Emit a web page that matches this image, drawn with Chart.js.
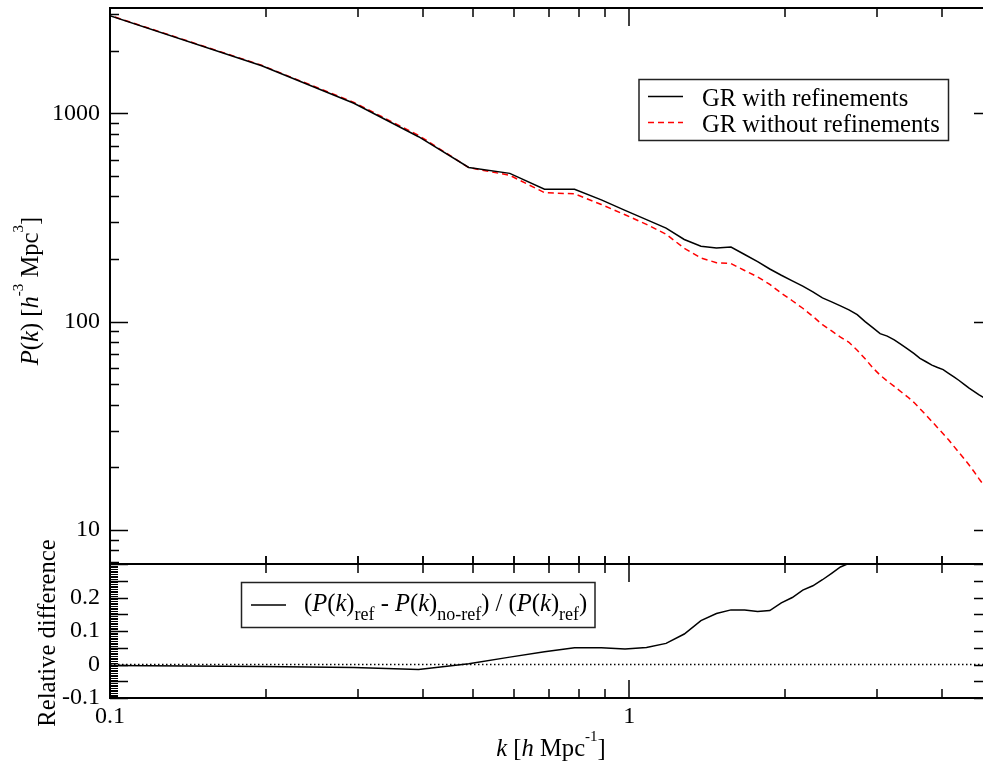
<!DOCTYPE html>
<html><head><meta charset="utf-8">
<script src="https://cdn.jsdelivr.net/npm/chart.js@4.4.1/dist/chart.umd.min.js"></script>
<style>
html,body{margin:0;padding:0;background:#fff;overflow:hidden;width:983px;height:765px;}
#wrap{position:relative;width:1000px;height:765px;}
canvas{position:absolute;left:0;top:0;}
</style></head><body>
<div id="wrap"><canvas id="cTop" width="1000" height="765"></canvas><canvas id="cBot" width="1000" height="765"></canvas></div>
<script>
// ---- data ----
const kValues = [0.098,0.196,0.295,0.393,0.491,0.589,0.687,0.785,0.884,0.982,1.080,1.178,1.277,1.375,1.473,1.571,1.669,1.768,1.866,1.964,2.062,2.160,2.259,2.357,2.455,2.553,2.651,2.750,2.848,2.946,3.044,3.142,3.241,3.339,3.437,3.535,3.633,3.732,3.830,3.928,4.026,4.124,4.223,4.321,4.419,4.517,4.615,4.714,4.812];
const pWithRef = [2990,1690,1117,772,550,515,432,432,384,342,309,281,248,230,226,228,210,194,179,167,157,148,139,130,124.5,119,114,108,100,93.6,87.6,85.2,81.8,77.8,74.1,70.4,66.7,64.2,61.9,60.3,58.9,56.5,54.3,52.2,50.0,48.0,46.3,44.7,43.3];
const pWithoutRef = [2999,1700,1127,784,549,504,416,411,365,326,293,263,225,202,192,190,176,164,151,137,126,116,106,96.7,90.3,84.4,79.6,72.9,66.4,60.1,55.4,51.9,48.9,46.1,43.6,41.0,38.2,35.6,33.2,31.0,29.0,27.1,25.2,23.5,22.0,20.5,19.1,17.7,16.5];
const relDiff = [-0.003,-0.006,-0.009,-0.015,0.002,0.022,0.038,0.050,0.050,0.046,0.051,0.063,0.091,0.131,0.152,0.163,0.163,0.158,0.161,0.184,0.200,0.222,0.235,0.253,0.272,0.291,0.302,0.325,0.336,0.358,0.368,0.391,0.402,0.407,0.412,0.418,0.427,0.445,0.464,0.486,0.508,0.520,0.536,0.550,0.560,0.573,0.587,0.604,0.619];
const zeroLineK = [0.1, 5];
const zeroLineY = [0, 0];
const seriesLabels = ['GR with refinements', 'GR without refinements'];
const ratioLabel = '(P(k)ref - P(k)no-ref) / (P(k)ref)';
const topYTickLabels = [10, 100, 1000];
const topYMinorTicks = [7,8,9,20,30,40,50,60,70,80,90,200,300,400,500,600,700,800,900,2000,3000];
const botYTickLabels = [-0.1, 0, 0.1, 0.2];
const botYMajorTicks = [-0.1,-0.05,0,0.05,0.1,0.15,0.2,0.25,0.3];
const xTickLabels = [0.1, 1];
const xMinorTicks = [0.2,0.3,0.4,0.5,0.6,0.7,0.8,0.9,2,3,4];

const FONT = '"Liberation Serif", "Times New Roman", serif';
const TXT = 24.6;

// rich text segments
const yTitleTop = [{t:'P',it:1},{t:'('},{t:'k',it:1},{t:') ['},{t:'h',it:1},{t:'-3',sup:1},{t:' Mpc'},{t:'3',sup:1},{t:']'}];
const yTitleBot = [{t:'Relative difference'}];
const xTitle = [{t:'k',it:1},{t:' ['},{t:'h',it:1},{t:' Mpc'},{t:'-1',sup:1},{t:']'}];
const ratioRich = [{t:'('},{t:'P',it:1},{t:'('},{t:'k',it:1},{t:')'},{t:'ref',sub:1},{t:' - '},{t:'P',it:1},{t:'('},{t:'k',it:1},{t:')'},{t:'no-ref',sub:1},{t:') / ('},{t:'P',it:1},{t:'('},{t:'k',it:1},{t:')'},{t:'ref',sub:1},{t:')'}];

function segFont(s, size){
  const sz = s.sup ? Math.round(size*0.62) : s.sub ? Math.round(size*0.72) : size;
  return (s.it ? 'italic ' : '') + sz + 'px ' + FONT;
}
function richWidth(ctx, segs, size){
  let w = 0;
  for (const s of segs){ ctx.font = segFont(s,size); w += ctx.measureText(s.t).width; }
  return w;
}
function drawRich(ctx, segs, x, y, size, align){
  const w = richWidth(ctx, segs, size);
  let cx = align === 'center' ? x - w/2 : x;
  ctx.textAlign = 'left'; ctx.textBaseline = 'alphabetic'; ctx.fillStyle = '#000';
  for (const s of segs){
    ctx.font = segFont(s,size);
    const dy = s.sup ? -size*0.62 : s.sub ? size*0.37 : 0;
    ctx.fillText(s.t, cx, y + dy);
    cx += ctx.measureText(s.t).width;
  }
}

function pts(xs, ys){ return xs.map((k,i)=>({x:k, y:ys[i]})); }
function noPad(s){ s.paddingTop = 0; s.paddingBottom = 0; s.paddingLeft = 0; s.paddingRight = 0; }

// ticks, frame, legends and titles drawn through the chart's scales
const decor = {
  id: 'decor',
  afterDraw(chart, args, o){
    const ctx = chart.ctx, a = chart.chartArea, xs = chart.scales.x, ys = chart.scales.y;
    ctx.save();
    ctx.strokeStyle = '#000'; ctx.lineWidth = 1.5; ctx.lineCap = 'butt';
    const seg = (x1,y1,x2,y2)=>{ ctx.beginPath(); ctx.moveTo(x1,y1); ctx.lineTo(x2,y2); ctx.stroke(); };
    const xt = (vals, len, edge, dir)=>{ for (const v of vals){ const p = Math.round(xs.getPixelForValue(v)); seg(p, edge, p, edge+dir*len); } };
    xt(o.xMajor, o.top.major, a.top, 1); xt(o.xMinor, o.top.minor, a.top, 1);
    if (o.topOut){ xt(o.xMajor, o.topOut, a.top, -1); xt(o.xMinor, o.topOut, a.top, -1); }
    xt(o.xMajor, o.bottom.major, a.bottom, -1); xt(o.xMinor, o.bottom.minor, a.bottom, -1);
    const yt = (vals, len, edge, dir)=>{ ctx.beginPath(); for (const v of vals){ const p = Math.round(ys.getPixelForValue(v)) + 0.5; ctx.moveTo(edge, p); ctx.lineTo(edge+dir*len, p);} ctx.stroke(); };
    yt(o.yMajor, o.left.major, a.left, 1);
    ctx.lineWidth = o.minorWidth || 1.5;
    yt(o.yMinor, o.left.minor, a.left, 1);
    ctx.lineWidth = 1.5;
    yt(o.yMajor, o.right.major, a.right, -1); yt(o.yMinor, o.right.minor, a.right, -1);
    ctx.lineWidth = 2;
    ctx.strokeRect(a.left, a.top, a.right - a.left, a.bottom - a.top);
    const L = o.legend;
    ctx.lineWidth = 1.5;
    ctx.strokeStyle = '#222';
    ctx.strokeRect(L.box[0], L.box[1], L.box[2]-L.box[0], L.box[3]-L.box[1]);
    L.items.forEach((it, i)=>{
      const ds = chart.data.datasets[it.ds];
      const yy = L.rows[i];
      ctx.strokeStyle = ds.borderColor; ctx.lineWidth = ds.borderWidth;
      ctx.setLineDash(ds.borderDash || []);
      seg(L.lineX[0], yy, L.lineX[1], yy);
      ctx.setLineDash([]);
      drawRich(ctx, it.rich || [{t: ds.label}], L.textX, yy + L.baseOff, TXT, 'left');
    });
    for (const t of o.titles){
      ctx.save(); ctx.translate(t.x, t.y);
      if (t.rot) ctx.rotate(-Math.PI/2);
      drawRich(ctx, t.segs, 0, 0, TXT, 'center');
      ctx.restore();
    }
    ctx.restore();
  }
};

const tickFont = {family: FONT, size: 24};

// ---- top panel ----
new Chart(document.getElementById('cTop'), {
  type: 'scatter',
  data: { datasets: [
    {label: seriesLabels[0], data: pts(kValues, pWithRef), showLine: true, borderColor: '#000000', borderWidth: 1.5, pointRadius: 0, tension: 0},
    {label: seriesLabels[1], data: pts(kValues, pWithoutRef), showLine: true, borderColor: '#ff0000', borderWidth: 1.5, borderDash: [6,4], pointRadius: 0, tension: 0}
  ]},
  options: {
    responsive: false, animation: false, devicePixelRatio: 1,
    layout: {padding: {left: 0, top: 8, right: 8, bottom: 0}},
    plugins: {
      legend: {display: false}, tooltip: {enabled: false},
      decor: {
        xMajor: [1], xMinor: xMinorTicks,
        top: {major: 18, minor: 9}, bottom: {major: 8, minor: 8},
        yMajor: topYTickLabels, yMinor: topYMinorTicks,
        left: {major: 18, minor: 9}, right: {major: 18, minor: 9},
        legend: {box: [639, 79.5, 948.5, 140.5], rows: [96.5, 122.5], lineX: [648, 683], textX: 702, baseOff: 9,
                 items: [{ds: 0}, {ds: 1}]},
        titles: [{x: 38, y: 291, rot: true, segs: yTitleTop}]
      }
    },
    scales: {
      x: {type: 'logarithmic', min: 0.1, max: 5, position: 'bottom',
          ticks: {display: false}, grid: {display: false, drawTicks: false}, border: {display: false},
          afterFit: s => { s.height = 765 - 564; noPad(s); }},
      y: {type: 'logarithmic', min: 6.87, max: 3202,
          grid: {display: false, drawTicks: false}, border: {display: false},
          ticks: {font: tickFont, color: '#000', padding: 10, callback: v => String(v)},
          afterBuildTicks: s => { s.ticks = topYTickLabels.map(v => ({value: v})); },
          afterFit: s => { s.width = 110; noPad(s); }}
    }
  },
  plugins: [decor]
});

// ---- bottom panel ----
new Chart(document.getElementById('cBot'), {
  type: 'scatter',
  data: { datasets: [
    {label: ratioLabel, data: pts(kValues, relDiff), showLine: true, borderColor: '#000000', borderWidth: 1.5, pointRadius: 0, tension: 0},
    {label: 'zero', data: pts(zeroLineK, zeroLineY), showLine: true, borderColor: '#000000', borderWidth: 1.5, borderDash: [1.5,2.5], pointRadius: 0}
  ]},
  options: {
    responsive: false, animation: false, devicePixelRatio: 1,
    layout: {padding: {left: 0, top: 564, right: 8, bottom: 0}},
    plugins: {
      legend: {display: false}, tooltip: {enabled: false},
      decor: {
        xMajor: [1], xMinor: xMinorTicks,
        top: {major: 18, minor: 9}, topOut: 8, bottom: {major: 18, minor: 9},
        yMajor: botYMajorTicks, yMinor: Array.from({length: 81}, (_, i) => -0.1 + i*0.005),
        minorWidth: 1,
        left: {major: 18, minor: 8}, right: {major: 18, minor: 8},
        legend: {box: [241.5, 582.5, 595, 627.5], rows: [605], lineX: [251, 286], textX: 304, baseOff: 6,
                 items: [{ds: 0, rich: ratioRich}]},
        titles: [{x: 55, y: 633, rot: true, segs: yTitleBot}, {x: 551, y: 756, rot: false, segs: xTitle}]
      }
    },
    scales: {
      x: {type: 'logarithmic', min: 0.1, max: 5, position: 'bottom',
          grid: {display: false, drawTicks: false}, border: {display: false},
          ticks: {font: tickFont, color: '#000', padding: 4, maxRotation: 0, autoSkip: false, callback: v => String(v)},
          afterBuildTicks: s => { s.ticks = xTickLabels.map(v => ({value: v})); },
          afterFit: s => { s.height = 765 - 698; noPad(s); }},
      y: {type: 'linear', min: -0.1, max: 0.3,
          grid: {display: false, drawTicks: false}, border: {display: false},
          ticks: {font: tickFont, color: '#000', padding: 10, callback: v => String(Math.round(v*10)/10)},
          afterBuildTicks: s => { s.ticks = botYTickLabels.map(v => ({value: v})); },
          afterFit: s => { s.width = 110; noPad(s); }}
    }
  },
  plugins: [decor]
});
</script>
</body></html>
